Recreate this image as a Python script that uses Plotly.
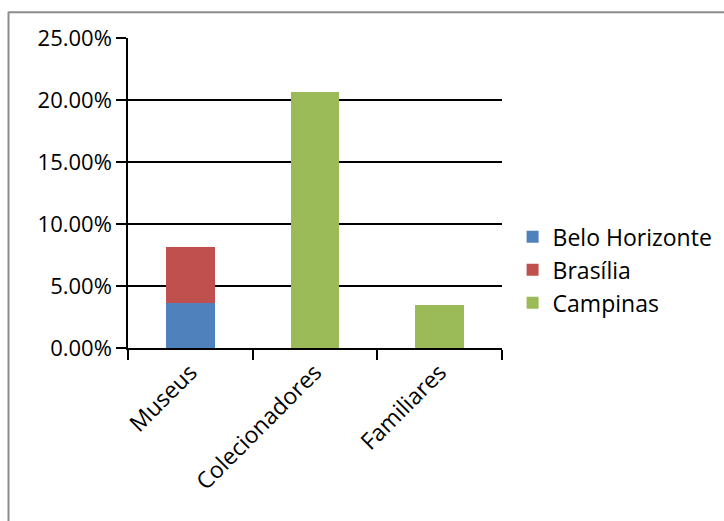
import plotly.graph_objects as go

categories = ["Museus", "Colecionadores", "Familiares"]
belo_horizonte = [0.0365, None, None]
brasilia = [0.0452, None, None]
campinas = [None, 0.2065, 0.0349]
y_ticks = [0, 0.05, 0.10, 0.15, 0.20, 0.25]

colors = {"Belo Horizonte": "#4F81BD", "Brasília": "#C0504D", "Campinas": "#9BBB59"}

fig = go.Figure()
for name, vals in [("Belo Horizonte", belo_horizonte), ("Brasília", brasilia), ("Campinas", campinas)]:
    fig.add_trace(go.Bar(x=categories, y=vals, name=name, marker_color=colors[name],
                         marker_line_width=0))

font = dict(family="Open Sans", size=22, color="#000000")
fig.update_layout(
    barmode="stack",
    bargap=0.61,
    width=724, height=521,
    margin=dict(l=128, r=222, t=38, b=173, autoexpand=False),
    paper_bgcolor="white", plot_bgcolor="white",
    font=font,
    legend=dict(xref="container", x=0.708, xanchor="left",
                yref="container", y=0.482, yanchor="middle",
                traceorder="normal",
                font=dict(family="Open Sans", size=23, color="#000"),
                itemwidth=30, tracegroupgap=0, bgcolor="rgba(0,0,0,0)"),
    xaxis=dict(showline=True, linecolor="#000", linewidth=1.5, ticks="outside",
               tickson="boundaries", ticklen=10, tickwidth=1.5, tickcolor="#000",
               tickangle=-45, showgrid=False, tickfont=dict(family="Open Sans", size=23, color="#000"),
               automargin=False),
    yaxis=dict(range=[0, 0.25], tickvals=y_ticks, tickformat=".2%",
               showline=True, linecolor="#000", linewidth=1.5, ticks="outside",
               ticklen=10, tickwidth=1.5, tickcolor="#000",
               showgrid=True, gridcolor="#000", gridwidth=1.5, zeroline=False,
               tickfont=font, automargin=False),
    shapes=[
        dict(type="line", xref="paper", yref="paper", x0=-0.319, x1=1.7, y0=1.083, y1=1.083,
             line=dict(color="#8c8c8c", width=2)),
        dict(type="line", xref="paper", yref="paper", x0=-0.3195, x1=-0.3195, y0=1.085, y1=-0.6,
             line=dict(color="#8c8c8c", width=2)),
    ],
)

fig.write_html("out.html")
